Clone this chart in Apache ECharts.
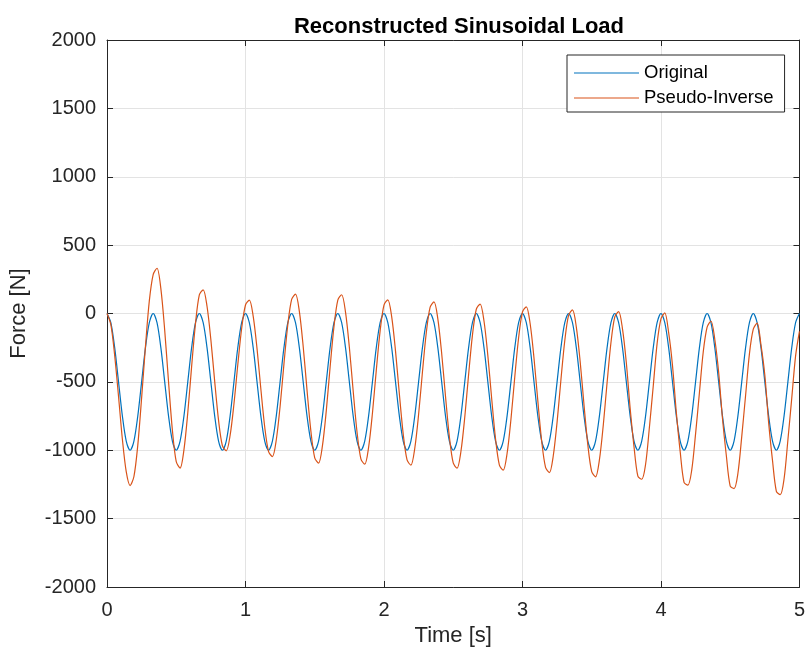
<!DOCTYPE html>
<html>
<head>
<meta charset="utf-8">
<script src="https://cdn.jsdelivr.net/npm/echarts@6/dist/echarts.min.js"></script>
<style>
html,body{margin:0;padding:0;background:#fff;}
#chart{width:808px;height:655px;}
</style>
</head>
<body>
<div id="chart"></div>
<script>
// ---- data ----
var chartTitle = 'Reconstructed Sinusoidal Load';
var xAxisName = 'Time [s]';
var yAxisName = 'Force [N]';
var seriesNames = ['Original', 'Pseudo-Inverse'];
var xTicks = [0, 1, 2, 3, 4, 5];
var yTicks = [-2000, -1500, -1000, -500, 0, 500, 1000, 1500, 2000];
var timeStep = 1 / 36; // seconds between samples

var originalForce = [
  0, -67, -250, -500, -750, -933, -1000, -933, -750, -500, -250, -67,
  0, -67, -250, -500, -750, -933, -1000, -933, -750, -500, -250, -67,
  0, -67, -250, -500, -750, -933, -1000, -933, -750, -500, -250, -67,
  0, -67, -250, -500, -750, -933, -1000, -933, -750, -500, -250, -67,
  0, -67, -250, -500, -750, -933, -1000, -933, -750, -500, -250, -67,
  0, -67, -250, -500, -750, -933, -1000, -933, -750, -500, -250, -67,
  0, -67, -250, -500, -750, -933, -1000, -933, -750, -500, -250, -67,
  0, -67, -250, -500, -750, -933, -1000, -933, -750, -500, -250, -67,
  0, -67, -250, -500, -750, -933, -1000, -933, -750, -500, -250, -67,
  0, -67, -250, -500, -750, -933, -1000, -933, -750, -500, -250, -67,
  0, -67, -250, -500, -750, -933, -1000, -933, -750, -500, -250, -67,
  0, -67, -250, -500, -750, -933, -1000, -933, -750, -500, -250, -67,
  0, -67, -250, -500, -750, -933, -1000, -933, -750, -500, -250, -67,
  0, -67, -250, -500, -750, -933, -1000, -933, -750, -500, -250, -67,
  0, -67, -250, -500, -750, -933, -1000, -933, -750, -500, -250, -67,
  0
];

var pseudoInverseForce = [
  0, -82, -308, -607, -920, -1157, -1258, -1192, -964, -617, -240, 92,
  285, 331, 182, -122, -501, -854, -1084, -1130, -997, -726, -387, -74,
  136, 173, 53, -192, -498, -782, -967, -1004, -892, -662, -375, -110,
  62, 98, -19, -257, -554, -830, -1010, -1046, -925, -678, -368, -82,
  103, 142, 16, -241, -562, -860, -1055, -1094, -968, -712, -391, -96,
  98, 137, 10, -247, -569, -868, -1063, -1102, -979, -729, -416, -127,
  62, 100, -23, -275, -589, -881, -1071, -1109, -987, -739, -428, -141,
  47, 85, -39, -292, -608, -901, -1093, -1131, -1009, -759, -446, -158,
  31, 69, -55, -308, -623, -916, -1108, -1146, -1024, -775, -464, -177,
  11, 49, -75, -327, -641, -934, -1125, -1163, -1042, -794, -484, -199,
  -12, 26, -99, -352, -669, -963, -1156, -1194, -1071, -819, -505, -214,
  -25, 14, -112, -360, -695, -975, -1190, -1212, -1104, -832, -530, -220,
  -40, 5, -140, -380, -725, -1010, -1235, -1255, -1145, -880, -580, -280,
  -100, -55, -190, -430, -770, -1040, -1262, -1280, -1170, -900, -600, -295,
  -115, -70, -230, -450, -800, -1075, -1300, -1325, -1210, -925, -620, -310,
  -130
];

// ---- build chart ----
function toPairs(values) {
  return values.map(function (v, i) { return [i * timeStep, v]; });
}
var FONT = "'Liberation Sans', Arial, Helvetica, sans-serif";
var TXT = '#262626';
var AX = '#262626';
var GRIDC = '#e3e3e3';

var chart = echarts.init(document.getElementById('chart'), null, {renderer: 'canvas'});
var xMin = xTicks[0], xMax = xTicks[xTicks.length - 1], xInt = xTicks[1] - xTicks[0];
var yMin = yTicks[0], yMax = yTicks[yTicks.length - 1], yInt = yTicks[1] - yTicks[0];

chart.setOption({
  animation: false,
  backgroundColor: '#fff',
  title: {
    text: chartTitle,
    left: 454, top: 11, textAlign: 'center',
    textStyle: {fontFamily: FONT, fontSize: 22, fontWeight: 'bold', color: '#000'}
  },
  legend: {
    data: seriesNames,
    orient: 'vertical',
    left: 567, top: 55,
    padding: [8, 11, 4, 7],
    itemGap: 5,
    itemWidth: 65, itemHeight: 1.2,
    icon: 'rect',
    borderColor: AX, borderWidth: 1,
    backgroundColor: '#fff',
    textStyle: {fontFamily: FONT, fontSize: 18.5, color: '#000', lineHeight: 20}
  },
  grid: {left: 107, right: 6, top: 40, bottom: 68, containLabel: false},
  xAxis: [{
    type: 'value', min: xMin, max: xMax, interval: xInt,
    name: xAxisName, nameLocation: 'middle', nameGap: 38,
    nameTextStyle: {fontFamily: FONT, fontSize: 22, color: TXT},
    axisLine: {show: true, onZero: false, lineStyle: {color: AX, width: 1}},
    axisTick: {show: true, inside: true, length: 6, lineStyle: {color: AX}},
    axisLabel: {fontFamily: FONT, fontSize: 20, color: TXT, margin: 13},
    splitLine: {show: true, lineStyle: {color: GRIDC, width: 1}}
  }, {
    type: 'value', min: xMin, max: xMax, interval: xInt, position: 'top',
    axisLine: {show: true, onZero: false, lineStyle: {color: AX, width: 1}},
    axisTick: {show: true, inside: true, length: 6, lineStyle: {color: AX}},
    axisLabel: {show: false}, splitLine: {show: false}
  }],
  yAxis: [{
    type: 'value', min: yMin, max: yMax, interval: yInt,
    name: yAxisName, nameLocation: 'middle', nameGap: 77, nameRotate: 90,
    nameTextStyle: {fontFamily: FONT, fontSize: 22, color: TXT},
    axisLine: {show: true, onZero: false, lineStyle: {color: AX, width: 1}},
    axisTick: {show: true, inside: true, length: 6, lineStyle: {color: AX}},
    axisLabel: {fontFamily: FONT, fontSize: 20, color: TXT, margin: 11,
      formatter: function (v) { return String(v); }},
    splitLine: {show: true, lineStyle: {color: GRIDC, width: 1}}
  }, {
    type: 'value', min: yMin, max: yMax, interval: yInt, position: 'right',
    axisLine: {show: true, onZero: false, lineStyle: {color: AX, width: 1}},
    axisTick: {show: true, inside: true, length: 6, lineStyle: {color: AX}},
    axisLabel: {show: false}, splitLine: {show: false}
  }],
  series: [{
    name: seriesNames[0], type: 'line', xAxisIndex: 0, yAxisIndex: 0,
    data: toPairs(originalForce), showSymbol: false, smooth: 0.3,
    lineStyle: {color: '#0072BD', width: 1.2}, itemStyle: {color: '#0072BD'}
  }, {
    name: seriesNames[1], type: 'line', xAxisIndex: 0, yAxisIndex: 0,
    data: toPairs(pseudoInverseForce), showSymbol: false, smooth: 0.3,
    lineStyle: {color: '#D95319', width: 1.2}, itemStyle: {color: '#D95319'}
  }]
});
</script>
</body>
</html>
